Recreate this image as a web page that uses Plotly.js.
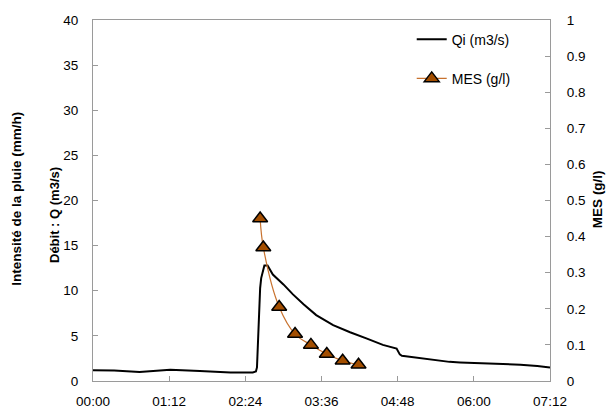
<!DOCTYPE html>
<html><head><meta charset="utf-8">
<script src="https://cdn.plot.ly/plotly-3.0.1.min.js"></script>
<style>html,body{margin:0;padding:0;background:#fff}#chart{width:607px;height:410px}</style>
</head><body><div id="chart"></div>
<script>
const qTimes = ["00:00","00:20","00:44","01:13","01:41","02:10","02:31","02:34","02:35","02:36","02:37","02:38","02:39","02:40","02:42","02:45","02:50","03:00","03:09","03:19","03:31","03:47","04:03","04:19","04:34","04:47","04:49","04:50","04:52","05:06","05:22","05:37","05:47","06:10","06:44","07:00","07:12"];
const qValues = [1.2,1.15,1.0,1.25,1.1,0.95,0.95,1.05,1.5,4.5,8.0,10.3,11.4,12.0,12.8,12.8,11.8,10.7,9.6,8.5,7.3,6.2,5.4,4.7,4.0,3.6,3.2,2.95,2.8,2.57,2.3,2.12,2.05,1.95,1.8,1.65,1.5];
const mesTimes = ["02:38","02:41","02:56","03:11","03:26","03:41","03:56","04:11"];
const mesValues = [0.45,0.37,0.205,0.13,0.10,0.075,0.056,0.045];
const yTicks = [0,5,10,15,20,25,30,35,40];
const y2Ticks = [0,0.1,0.2,0.3,0.4,0.5,0.6,0.7,0.8,0.9,1];
const xTickLabels = ["00:00","01:12","02:24","03:36","04:48","06:00","07:12"];

const day = "2000-01-01 ";
const fam = "Liberation Sans, Arial, sans-serif";
const font = {family:fam, size:13.5, color:"#000"};
const axisCol = "#9a9a9a";

const traces = [
  {x: qTimes.map(t=>day+t), y: qValues, type:"scatter", mode:"lines", name:"Qi (m3/s)",
   line:{color:"#000", width:2}, legendgroup:"a"},
  {x: mesTimes.map(t=>day+t), y: mesValues, type:"scatter", mode:"lines+markers", name:"MES (g/l)",
   yaxis:"y2", line:{color:"#c8722e", width:1.2, shape:"spline"},
   marker:{symbol:"triangle-up", size:13, color:"#a34e00", line:{color:"#000", width:1.5}}, legendgroup:"b"}
];

const layout = {
  width:607, height:410,
  margin:{l:93, r:57, t:20, b:29},
  paper_bgcolor:"#fff", plot_bgcolor:"#fff",
  font: font,
  showlegend:true,
  legend:{x:0.925, y:0.99, xanchor:"right", yanchor:"top", bgcolor:"rgba(0,0,0,0)",
          traceorder:"grouped", tracegroupgap:18, font:{family:fam, size:14, color:"#000"}},
  xaxis:{type:"date", range:[day+"00:00", day+"07:12"], tickvals: xTickLabels.map(t=>day+t), ticktext: xTickLabels,
         ticks:"inside", ticklen:5, tickcolor:axisCol, showline:true, linecolor:axisCol, linewidth:1, mirror:true,
         showgrid:false, zeroline:false, tickfont:font, ticklabelstandoff:8},
  yaxis:{range:[0,40], tickvals:yTicks, ticks:"inside", ticklen:5, tickcolor:axisCol, showline:true, linecolor:axisCol,
         linewidth:1, showgrid:false, zeroline:false, tickfont:font, ticklabelstandoff:11},
  yaxis2:{range:[0,1], overlaying:"y", side:"right", tickvals:y2Ticks, ticks:"inside", ticklen:5, tickcolor:axisCol,
          showline:true, linecolor:axisCol, linewidth:1, showgrid:false, zeroline:false, tickfont:font, ticklabelstandoff:13},
  annotations:[
    {text:"<b>Intensité de la pluie (mm/h)</b>", xref:"paper", yref:"paper", x:-0.166, y:0.505, xanchor:"center", yanchor:"middle",
     showarrow:false, textangle:-90, font:{family:fam, size:13.5, color:"#000"}},
    {text:"<b>Débit : Q (m3/s)</b>", xref:"paper", yref:"paper", x:-0.083, y:0.46, xanchor:"center", yanchor:"middle",
     showarrow:false, textangle:-90, font:{family:fam, size:13, color:"#000"}},
    {text:"<b>MES (g/l)</b>", xref:"paper", yref:"paper", x:1.103, y:0.504, xanchor:"center", yanchor:"middle",
     showarrow:false, textangle:-90, font:{family:fam, size:13.5, color:"#000"}}
  ]
};
Plotly.newPlot("chart", traces, layout, {displayModeBar:false, staticPlot:true});
</script></body></html>
